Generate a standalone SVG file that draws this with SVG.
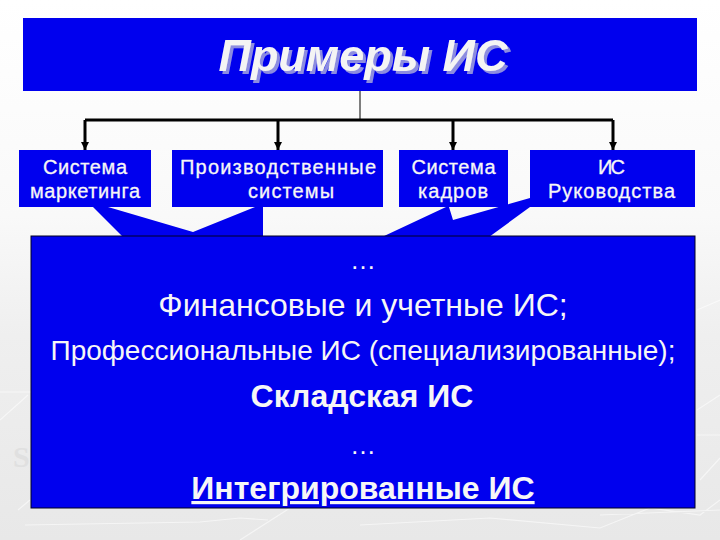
<svg xmlns="http://www.w3.org/2000/svg" width="720" height="540" viewBox="0 0 720 540">
<defs>
<linearGradient id="bg" x1="0" y1="0" x2="0" y2="1"><stop offset="0" stop-color="#ffffff"/><stop offset="0.4" stop-color="#f9f9f9"/><stop offset="0.62" stop-color="#efefef"/><stop offset="1" stop-color="#e8e8e8"/></linearGradient>
<marker id="arr" markerUnits="userSpaceOnUse" markerWidth="9" markerHeight="9" refX="8" refY="4" orient="auto"><path d="M0,0L8,4L0,8Z" fill="#000"/></marker>
<filter id="shadow" x="-5%" y="-10%" width="110%" height="130%"><feDropShadow dx="3" dy="3" stdDeviation="0.3" flood-color="#8c8ce0"/></filter>
</defs>
<style>
.box{fill:#0000ee}
.big{fill:#0000ee;stroke:#000022;stroke-width:1}
.link{fill:none;stroke:#000;stroke-width:3}
.thin{fill:none;stroke:#000;stroke-width:1}
.t{font-family:"Liberation Sans",Arial,sans-serif;fill:#f6f6f6;text-anchor:middle}
.n{font-size:20px;stroke:#f6f6f6;stroke-width:.3}
.deco{fill:none;stroke:#ffffff;stroke-width:1.2;opacity:.55}
.h{font-family:"Liberation Sans",Arial,sans-serif;font-size:45px;font-weight:bold;font-style:italic;text-anchor:middle;fill:#f4f4f4;filter:url(#shadow)}
</style>
<rect width="720" height="540" fill="url(#bg)"/>
<path class="deco" d="M0,392H32M0,420L28,395M18,510L30,500M25,525L200,522L240,518L268,520M240,540L290,508M360,525L490,518L600,528L650,508L700,515L720,500M697,410L720,395M697,310L720,300M697,435H720M700,480L720,458M600,515L720,510"/>
<text x="13" y="467" font-family="'Liberation Serif',serif" font-size="30" font-weight="bold" fill="#e0e0e0">S</text>
<g id="connectors">
<path class="thin" d="M360,91V120"/>
<path class="link" d="M85,120H613"/>
<path class="link" d="M85,120V150" marker-end="url(#arr)"/>
<path class="link" d="M278,120V150" marker-end="url(#arr)"/>
<path class="link" d="M453,120V150" marker-end="url(#arr)"/>
<path class="link" d="M613,120V150" marker-end="url(#arr)"/>
<path class="box" d="M93,207H108L193,232L255,207H263V237H123Z"/>
<path class="box" d="M382,237L446,207H449L453,220L530,198V207L489,237Z"/>
</g>
<g id="title">
<rect class="box" x="23" y="18" width="674" height="73"/>
<text class="h" x="363" y="71">Примеры ИС</text>
</g>
<g id="node-marketing">
<rect class="box" x="19" y="150" width="132" height="57"/>
<text class="t n" x="85" y="174" textLength="84">Система</text>
<text class="t n" x="85" y="198" textLength="110">маркетинга</text>
</g>
<g id="node-production">
<rect class="box" x="172" y="150" width="211" height="57"/>
<text class="t n" x="278" y="174" textLength="196">Производственные</text>
<text class="t n" x="291" y="198" textLength="86">системы</text>
</g>
<g id="node-hr">
<rect class="box" x="399" y="150" width="109" height="57"/>
<text class="t n" x="453.500" y="174" textLength="84">Система</text>
<text class="t n" x="453" y="198" textLength="70">кадров</text>
</g>
<g id="node-management">
<rect class="box" x="530" y="150" width="165" height="57"/>
<text class="t n" x="611.500" y="174" textLength="27">ИС</text>
<text class="t n" x="611.500" y="198" textLength="127">Руководства</text>
</g>
<g id="node-main">
<rect class="big" x="31" y="236" width="664" height="272"/>
<text class="t" x="363" y="269" font-size="26">…</text>
<text class="t" x="363" y="316" font-size="32">Финансовые и учетные ИС;</text>
<text class="t" x="363" y="360" font-size="28">Профессиональные ИС (специализированные);</text>
<text class="t" x="362" y="407" font-size="32" font-weight="bold">Складская ИС</text>
<text class="t" x="363" y="454" font-size="26">…</text>
<text class="t" x="363" y="499" font-size="32" font-weight="bold" text-decoration="underline">Интегрированные ИС</text>
</g>
</svg>
